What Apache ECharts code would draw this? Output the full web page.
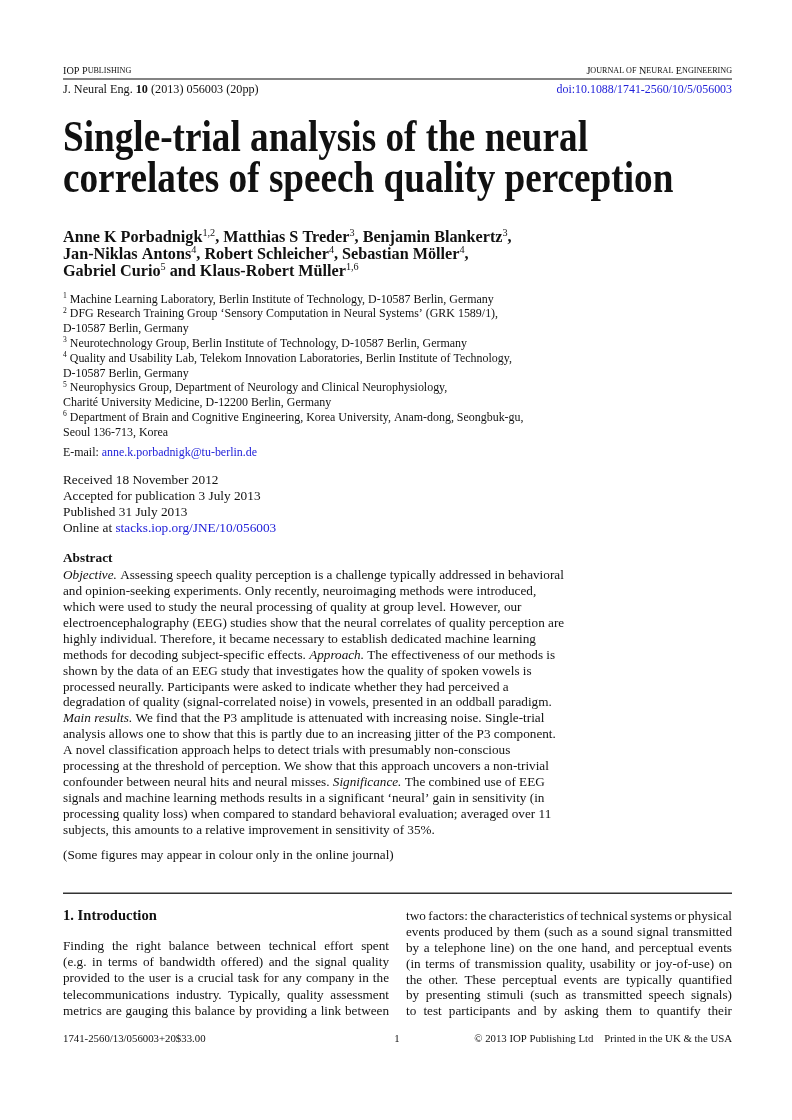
<!DOCTYPE html>
<html>
<head>
<meta charset="utf-8">
<script src="https://cdn.jsdelivr.net/npm/echarts@6/dist/echarts.min.js"></script>
<style>
  html, body { margin: 0; padding: 0; background: #fff; }
  #page { width: 792px; height: 1120px; }
</style>
</head>
<body>
<div id="page"></div>
<script>
// page texts, line by line as printed
let headerLeft = "IOP P{sc|UBLISHING}";
let headerRight = "J{sc|OURNAL OF} N{sc|EURAL} E{sc|NGINEERING}";
let citeLine = "J. Neural Eng. {b|10} (2013) 056003 (20pp)";
let doiText = "doi:10.1088/1741-2560/10/5/056003";

let titleLines = [
  "Single-trial analysis of the neural",
  "correlates of speech quality perception",
];

let authorLines = [
  "Anne K Porbadnigk{s|1,2}, Matthias S Treder{s|3}, Benjamin Blankertz{s|3},",
  "Jan-Niklas Antons{s|4}, Robert Schleicher{s|4}, Sebastian Möller{s|4},",
  "Gabriel Curio{s|5} and Klaus-Robert Müller{s|1,6}",
];

let affiliationLines = [
  "{s|1} Machine Learning Laboratory, Berlin Institute of Technology, D-10587 Berlin, Germany",
  "{s|2} DFG Research Training Group ‘Sensory Computation in Neural Systems’ (GRK 1589/1),",
  "D-10587 Berlin, Germany",
  "{s|3} Neurotechnology Group, Berlin Institute of Technology, D-10587 Berlin, Germany",
  "{s|4} Quality and Usability Lab, Telekom Innovation Laboratories, Berlin Institute of Technology,",
  "D-10587 Berlin, Germany",
  "{s|5} Neurophysics Group, Department of Neurology and Clinical Neurophysiology,",
  "Charité University Medicine, D-12200 Berlin, Germany",
  "{s|6} Department of Brain and Cognitive Engineering, Korea University, Anam-dong, Seongbuk-gu,",
  "Seoul 136-713, Korea",
];
let emailLine = "E-mail: {a|anne.k.porbadnigk@tu-berlin.de}";

let historyLines = [
  "Received 18 November 2012",
  "Accepted for publication 3 July 2013",
  "Published 31 July 2013",
  "Online at {a|stacks.iop.org/JNE/10/056003}",
];

let abstractLines = [
  "{i|Objective.} Assessing speech quality perception is a challenge typically addressed in behavioral",
  "and opinion-seeking experiments. Only recently, neuroimaging methods were introduced,",
  "which were used to study the neural processing of quality at group level. However, our",
  "electroencephalography (EEG) studies show that the neural correlates of quality perception are",
  "highly individual. Therefore, it became necessary to establish dedicated machine learning",
  "methods for decoding subject-specific effects. {i|Approach.} The effectiveness of our methods is",
  "shown by the data of an EEG study that investigates how the quality of spoken vowels is",
  "processed neurally. Participants were asked to indicate whether they had perceived a",
  "degradation of quality (signal-correlated noise) in vowels, presented in an oddball paradigm.",
  "{i|Main results.} We find that the P3 amplitude is attenuated with increasing noise. Single-trial",
  "analysis allows one to show that this is partly due to an increasing jitter of the P3 component.",
  "A novel classification approach helps to detect trials with presumably non-conscious",
  "processing at the threshold of perception. We show that this approach uncovers a non-trivial",
  "confounder between neural hits and neural misses. {i|Significance.} The combined use of EEG",
  "signals and machine learning methods results in a significant ‘neural’ gain in sensitivity (in",
  "processing quality loss) when compared to standard behavioral evaluation; averaged over 11",
  "subjects, this amounts to a relative improvement in sensitivity of 35%.",
];
let colourNote = "(Some figures may appear in colour only in the online journal)";

let introHeading = "1. Introduction";
let introLeft = [
  "Finding the right balance between technical effort spent",
  "(e.g. in terms of bandwidth offered) and the signal quality",
  "provided to the user is a crucial task for any company in the",
  "telecommunications industry. Typically, quality assessment",
  "metrics are gauging this balance by providing a link between",
];
let introRight = [
  "two factors: the characteristics of technical systems or physical",
  "events produced by them (such as a sound signal transmitted",
  "by a telephone line) on the one hand, and perceptual events",
  "(in terms of transmission quality, usability or joy-of-use) on",
  "the other. These perceptual events are typically quantified",
  "by presenting stimuli (such as transmitted speech signals)",
  "to test participants and by asking them to quantify their",
];

let footerLeft = "1741-2560/13/056003+20$33.00";
let footerMid = "1";
let footerRight = "© 2013 IOP Publishing Ltd    Printed in the UK & the USA";

// ---------------------------------------------------------------
let FONT = '"Liberation Serif", "Times New Roman", serif';
let INK = "#111";
let LINK = "#2121d9";
let LEFT = 63, RIGHT = 732;

let ctx = document.createElement("canvas").getContext("2d");
let measure = function (str, size, weight, style) {
  ctx.font = (style || "normal") + " " + (weight || "normal") + " " + size + "px " + FONT;
  return ctx.measureText(str).width;
};
let plain = (str) => str.replace(/\{\w+\|([^}]*)\}/g, "$1");

let elements = [];

let addText = function (str, x, y, size, opts) {
  opts = opts || {};
  elements.push({
    type: "text",
    x: x,
    y: y,
    scaleX: opts.scaleX || 1,
    silent: true,
    style: {
      text: str,
      fill: opts.fill || INK,
      fontFamily: FONT,
      fontSize: size,
      fontWeight: opts.weight || "normal",
      fontStyle: opts.style || "normal",
      align: opts.align || "left",
      verticalAlign: "middle",
      lineHeight: opts.lineHeight || Math.round(size * 1.5),
      rich: opts.rich,
    },
  });
};

let addRule = function (y, h, color) {
  elements.push({
    type: "rect",
    silent: true,
    shape: { x: LEFT, y: y, width: RIGHT - LEFT, height: h },
    style: { fill: color },
  });
};

// spread the words of a line over the full column width
let addJustified = function (str, x0, x1, y, size) {
  let words = str.split(" ");
  let widths = words.map((w) => measure(w, size));
  let total = widths.reduce((a, b) => a + b, 0);
  let gap = (x1 - x0 - total) / (words.length - 1);
  let x = x0;
  words.forEach((w, i) => {
    addText(w, x, y, size);
    x += widths[i] + gap;
  });
};

// superscript: small token pinned to the top of the line box
let supRich = function (size) {
  return {
    s: { fontFamily: FONT, fontSize: size, fontWeight: "normal", fill: INK, lineHeight: size, verticalAlign: "top" },
  };
};

// header
let scRich = { sc: { fontFamily: FONT, fontSize: 8.1, fill: INK } };
addText(headerLeft, LEFT, 71, 10.2, { rich: scRich });
addText(headerRight, RIGHT, 71, 10.2, { rich: scRich, align: "right" });
addRule(78.3, 1.5, "#5a5a5a");
addText(citeLine, LEFT, 90, 12.2, {
  rich: { b: { fontFamily: FONT, fontSize: 12.2, fontWeight: "bold", fill: INK } },
});
addText(doiText, RIGHT, 90, 11.9, { fill: LINK, align: "right" });

// title, condensed bold
let titleSize = 44;
let titleScale = 525 / measure(titleLines[0], titleSize, "bold");
titleLines.forEach((t, i) => {
  addText(t, LEFT, 140 + i * 41, titleSize, { weight: "bold", scaleX: titleScale });
});

// authors
let authorSize = 16.2;
authorLines.forEach((t, i) => {
  addText(t, LEFT, 238 + i * 17, authorSize, {
    weight: "bold", rich: supRich(10.2), lineHeight: authorSize + 4,
  });
});

// affiliations
let affSize = 11.95;
affiliationLines.forEach((t, i) => {
  addText(t, LEFT, 299.5 + i * 14.8, affSize, { rich: supRich(7.6), lineHeight: affSize + 3 });
});
addText(emailLine, LEFT, 453, affSize, {
  rich: { a: { fontFamily: FONT, fontSize: affSize, fill: LINK } },
});

// history
let histSize = 13.3;
historyLines.forEach((t, i) => {
  addText(t, LEFT, 481 + i * 16, histSize, {
    rich: { a: { fontFamily: FONT, fontSize: histSize, fill: LINK } },
  });
});

// abstract
let absSize = 502 / measure(plain(abstractLines[0]), 1);
addText("Abstract", LEFT, 558.5, 13.3, { weight: "bold" });
abstractLines.forEach((t, i) => {
  addText(t, LEFT, 575.5 + i * 15.94, absSize, {
    rich: { i: { fontFamily: FONT, fontSize: absSize, fontStyle: "italic", fill: INK } },
  });
});
addText(colourNote, LEFT, 855.5, absSize);

addRule(892.5, 1.4, "#333");

// introduction, two justified columns
addText(introHeading, LEFT, 916, 14.6, { weight: "bold" });
introLeft.forEach((t, i) => addJustified(t, LEFT, 389, 946.5 + i * 16.25, absSize));
introRight.forEach((t, i) => addJustified(t, 406, RIGHT, 916.5 + i * 15.9, absSize));

// footer
addText(footerLeft, LEFT, 1039, 10.8);
addText(footerMid, 397, 1039, 10.8, { align: "center" });
addText(footerRight, RIGHT, 1039, 10.8, { align: "right" });

let chart = echarts.init(document.getElementById("page"), null, { renderer: "canvas" });
chart.setOption({
  backgroundColor: "#fff",
  animation: false,
  graphic: { elements: elements },
});
</script>
</body>
</html>
